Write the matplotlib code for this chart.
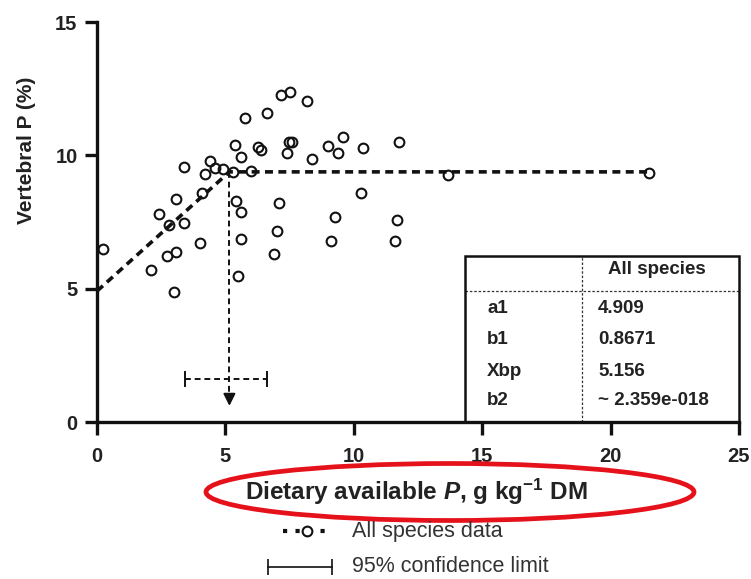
import matplotlib
matplotlib.use("Agg")
import matplotlib.pyplot as plt
from matplotlib.lines import Line2D
from matplotlib.patches import Ellipse, Rectangle

plt.rcParams["font.family"] = ["Liberation Sans", "DejaVu Sans"]
plt.rcParams["mathtext.fontset"] = "custom"
plt.rcParams["mathtext.rm"] = "Liberation Sans:bold"
plt.rcParams["mathtext.it"] = "Liberation Sans:italic:bold"
plt.rcParams["mathtext.bf"] = "Liberation Sans:bold"

# observed points (dietary available P, vertebral P)
diet_p = [0.22, 2.09, 3.00, 2.71, 3.09, 4.00, 2.82, 3.39, 2.40, 3.09,
          4.09, 3.39, 4.19, 4.40, 4.58, 4.89, 5.31, 6.00, 5.37, 5.60,
          5.77, 6.61, 7.18, 7.50, 8.17, 6.28, 6.37, 7.49, 7.58, 7.39,
          5.41, 5.60, 5.60, 5.50, 7.09, 7.00, 6.88, 8.38, 9.00, 9.37,
          9.59, 10.37, 11.77, 13.67, 10.29, 9.28, 11.68, 9.10, 11.59, 21.51]
vert_p = [6.48, 5.70, 4.89, 6.24, 6.38, 6.71, 7.38, 7.46, 7.81, 8.37,
          8.58, 9.57, 9.30, 9.80, 9.54, 9.50, 9.36, 9.42, 10.38, 9.93,
          11.41, 11.60, 12.25, 12.39, 12.03, 10.30, 10.20, 10.50, 10.50, 10.09,
          8.28, 7.88, 6.87, 5.48, 8.22, 7.16, 6.29, 9.87, 10.35, 10.09,
          10.68, 10.29, 10.49, 9.27, 8.58, 7.68, 7.57, 6.78, 6.78, 9.33]

# broken-line fit
a1 = 4.909
b1 = 0.8671
xbp = 5.156
b2_text = "~ 2.359e-018"
ci_low, ci_high = 3.43, 6.61
ci_y = 1.6

param_names = ["a1", "b1", "Xbp", "b2"]
param_values = ["4.909", "0.8671", "5.156", b2_text]
table_header = "All species"

x_ticks = [0, 5, 10, 15, 20, 25]
y_ticks = [0, 5, 10, 15]

fig = plt.figure(figsize=(7.51, 5.79), dpi=100)
W, H = 751, 579
ax = fig.add_axes([97 / W, 1 - 422 / H, 642 / W, 400 / H])

plateau = a1 + b1 * xbp
x_end = max(diet_p)
ax.plot([0, xbp, x_end], [a1, plateau, plateau], color="#111111", lw=2.6,
        dashes=(2.2, 1.5), zorder=3)
ax.plot(diet_p, vert_p, ls="none", marker="o", ms=7, mfc="none", mec="#111111",
        mew=1.5, zorder=4)

# breakpoint arrow and confidence interval
ax.plot([xbp, xbp], [plateau, 1.1], color="#111111", lw=1.4, dashes=(3, 2))
ax.annotate("", xy=(xbp, 0.5), xytext=(xbp, 1.15),
            arrowprops=dict(arrowstyle="-|>", mutation_scale=18, color="#111111", lw=1.4))
ax.plot([ci_low, ci_high], [ci_y, ci_y], color="#111111", lw=1.4, dashes=(3, 2))
ax.plot([ci_low, ci_high], [ci_y, ci_y], ls="none", marker="|", ms=11, mew=1.4,
        color="#111111")

# parameter table
tab_left, tab_div, tab_right, tab_top, tab_head = 14.33, 18.89, 25.0, 6.22, 4.91
ax.add_patch(Rectangle((tab_left, 0), tab_right - tab_left, tab_top, fill=False,
                       ec="#111111", lw=1.8, clip_on=False, zorder=5))
ax.plot([tab_div, tab_div], [0, tab_top], color="#333333", lw=0.9, dashes=(2, 1.5),
        clip_on=False)
ax.plot([tab_left, tab_right], [tab_head, tab_head], color="#333333", lw=0.9,
        dashes=(2, 1.5), clip_on=False)
ax.text(21.81, 5.70, table_header, ha="center", va="center", fontsize=13.5,
        fontweight="bold", color="#222222")
row_y = [4.24, 3.11, 1.91, 0.79]
for name, val, yy in zip(param_names, param_values, row_y):
    ax.text(15.19, yy, name, ha="left", va="center", fontsize=13.5, fontweight="bold",
            color="#222222")
    ax.text(19.51, yy, val, ha="left", va="center", fontsize=13.5, fontweight="bold",
            color="#222222")

ax.set_xlim(0, 25)
ax.set_ylim(0, 15)
ax.set_xticks(x_ticks)
ax.set_yticks(y_ticks)
for side in ["top", "right"]:
    ax.spines[side].set_visible(False)
for side in ["left", "bottom"]:
    ax.spines[side].set_linewidth(2.4)
    ax.spines[side].set_color("#111111")
ax.tick_params(length=9, width=2.4, color="#111111", labelsize=14.5, pad=5,
               labelcolor="#222222")
ax.tick_params(axis="x", pad=9)
for lab in ax.get_xticklabels() + ax.get_yticklabels():
    lab.set_fontweight("bold")

ax.set_ylabel("Vertebral P (%)", fontsize=15, fontweight="bold", color="#222222")
ax.yaxis.set_label_coords(-0.095, 0.68)
ax.set_xlabel(r"Dietary available $\mathit{P}$, g kg$^{-1}$ DM", fontsize=17.5,
              fontweight="bold", color="#222222")
ax.xaxis.set_label_coords(0.498, -0.138)

# hand-drawn highlight around the x label
fig.add_artist(Ellipse((450 / W, 1 - 492 / H), 488 / W, 57 / H, transform=fig.transFigure,
                       fill=False, ec="#e5121b", lw=3.4))

# legend below the axes
def fx(px):
    return px / W


def fy(py):
    return 1 - py / H


fig.add_artist(Line2D([fx(283), fx(327)], [fy(531), fy(531)], transform=fig.transFigure,
                      color="#111111", lw=3, dashes=(1, 2)))
fig.add_artist(Line2D([fx(307)], [fy(531)], transform=fig.transFigure, ls="none",
                      marker="o", ms=7, mfc="white", mec="#111111", mew=1.5))
fig.text(fx(352), fy(531), "All species data", ha="left", va="center", fontsize=15.5,
         color="#333333")
fig.add_artist(Line2D([fx(268), fx(332)], [fy(567), fy(567)], transform=fig.transFigure,
                      color="#111111", lw=1.2))
fig.add_artist(Line2D([fx(268), fx(332)], [fy(567), fy(567)], transform=fig.transFigure,
                      ls="none", marker="|", ms=11, mew=1.2, color="#111111"))
fig.text(fx(352), fy(567), "95% confidence limit", ha="left", va="center", fontsize=15.5,
         color="#333333")

fig.savefig("out.png", dpi=100)
